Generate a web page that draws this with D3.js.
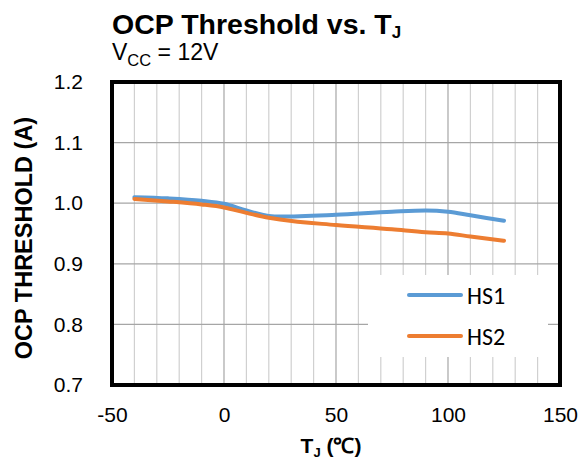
<!DOCTYPE html>
<html>
<head>
<meta charset="utf-8">
<script src="https://cdn.jsdelivr.net/npm/d3@7"></script>
<style>
  html, body { margin: 0; padding: 0; background: #fff; }
  svg { display: block; font-family: "Liberation Sans", Arial, sans-serif; }
</style>
</head>
<body>
<svg id="chart" width="581" height="464"></svg>
<script>
// Junction temperature (°C) sample points
const temps = [-40, -25, -10, 0, 10, 20, 25, 50, 75, 90, 100, 110, 125];
// OCP threshold (A) for each channel
const hs1 = [1.010, 1.008, 1.004, 0.999, 0.988, 0.979, 0.978, 0.981, 0.986, 0.988, 0.986, 0.980, 0.971];
const hs2 = [1.007, 1.003, 0.998, 0.993, 0.984, 0.976, 0.973, 0.964, 0.957, 0.952, 0.950, 0.945, 0.938];
const seriesNames = ["HS1", "HS2"];
const seriesColors = ["#5B9BD5", "#ED7D31"];
const xTicks = [-50, 0, 50, 100, 150];
const yTicks = [0.7, 0.8, 0.9, 1.0, 1.1, 1.2];

const svg = d3.select("#chart");
const plotL = 112, plotR = 560, plotT = 82, plotB = 385;

const x = d3.scaleLinear().domain([-50, 150]).range([plotL, plotR]);
const y = d3.scaleLinear().domain([0.7, 1.2]).range([plotB, plotT]);

// Vertical grid: minor every 10 °C, major every 50 °C
const minorX = d3.range(-40, 150, 10).filter(v => v % 50 !== 0);
svg.append("g").selectAll("line").data(minorX).join("line")
  .attr("x1", d => x(d)).attr("x2", d => x(d))
  .attr("y1", plotT).attr("y2", plotB)
  .attr("stroke", "#d0d0d0").attr("stroke-width", 1.2);
svg.append("g").selectAll("line").data([0, 50, 100]).join("line")
  .attr("x1", d => x(d)).attr("x2", d => x(d))
  .attr("y1", plotT).attr("y2", plotB)
  .attr("stroke", "#a6a6a6").attr("stroke-width", 1.2);
// Horizontal grid at each y tick
svg.append("g").selectAll("line").data(yTicks.slice(1, -1)).join("line")
  .attr("x1", plotL).attr("x2", plotR)
  .attr("y1", d => y(d)).attr("y2", d => y(d))
  .attr("stroke", "#a6a6a6").attr("stroke-width", 1.2);

// Legend background blocks the grid behind it
svg.append("rect").attr("x", 368).attr("y", 275).attr("width", 180).attr("height", 82)
  .attr("fill", "#fff");

// Series curves
const line = d3.line().x(d => x(d[0])).y(d => y(d[1])).curve(d3.curveMonotoneX);
[hs1, hs2].forEach((vals, i) => {
  svg.append("path")
    .datum(temps.map((t, j) => [t, vals[j]]))
    .attr("d", line)
    .attr("fill", "none")
    .attr("stroke", seriesColors[i])
    .attr("stroke-width", 4)
    .attr("stroke-linecap", "round");
});

// Plot frame
svg.append("rect").attr("x", plotL).attr("y", plotT)
  .attr("width", plotR - plotL).attr("height", plotB - plotT)
  .attr("fill", "none").attr("stroke", "#000").attr("stroke-width", 4);

// Axes (labels only)
const xAxis = svg.append("g").attr("transform", `translate(0,${plotB})`)
  .call(d3.axisBottom(x).tickValues(xTicks).tickSize(0).tickPadding(22).tickFormat(d3.format("d")));
const yAxis = svg.append("g").attr("transform", `translate(${plotL},0)`)
  .call(d3.axisLeft(y).tickValues(yTicks).tickSize(0).tickPadding(29).tickFormat(d3.format(".1f")));
[xAxis, yAxis].forEach(a => {
  a.select(".domain").remove();
  a.attr("font-size", null).attr("font-family", null);
  a.selectAll("text").attr("font-size", 21).attr("fill", "#000")
    .attr("font-family", "Liberation Sans, Arial, sans-serif");
});
// use a plain hyphen for the negative tick
xAxis.selectAll("text").text(d => String(d));

// Legend
seriesNames.forEach((name, i) => {
  const ly = 295 + i * 41;
  svg.append("line").attr("x1", 409).attr("x2", 461).attr("y1", ly).attr("y2", ly)
    .attr("stroke", seriesColors[i]).attr("stroke-width", 4).attr("stroke-linecap", "round");
  svg.append("text").attr("x", 467).attr("y", ly + 8.5).attr("font-size", 24)
    .attr("font-family", "Carlito, Calibri, 'Liberation Sans', sans-serif")
    .attr("fill", "#000").text(name);
});

// Title and subtitle
const title = svg.append("text").attr("x", 112).attr("y", 34)
  .attr("font-size", 28.5).attr("font-weight", "bold").attr("fill", "#000");
title.append("tspan").text("OCP Threshold vs. T");
title.append("tspan").attr("font-size", 17).attr("dy", 4).text("J");

const sub = svg.append("text").attr("x", 112).attr("y", 60).attr("font-size", 23).attr("fill", "#000");
sub.append("tspan").text("V");
sub.append("tspan").attr("font-size", 16.5).attr("dy", 6).text("CC");
sub.append("tspan").attr("dy", -6).text(" = 12V");

// Axis titles
const xt = svg.append("text").attr("x", 331).attr("y", 453).attr("text-anchor", "middle")
  .attr("font-size", 21).attr("font-weight", "bold").attr("fill", "#000");
xt.append("tspan").text("T");
xt.append("tspan").attr("font-size", 13).attr("dy", 4).text("J");
xt.append("tspan").attr("dy", -4).text(" (\u2103)");

svg.append("text").attr("transform", "translate(32,238) rotate(-90)")
  .attr("text-anchor", "middle").attr("font-size", 23.5).attr("font-weight", "bold")
  .attr("fill", "#000").text("OCP THRESHOLD (A)");
</script>
</body>
</html>
